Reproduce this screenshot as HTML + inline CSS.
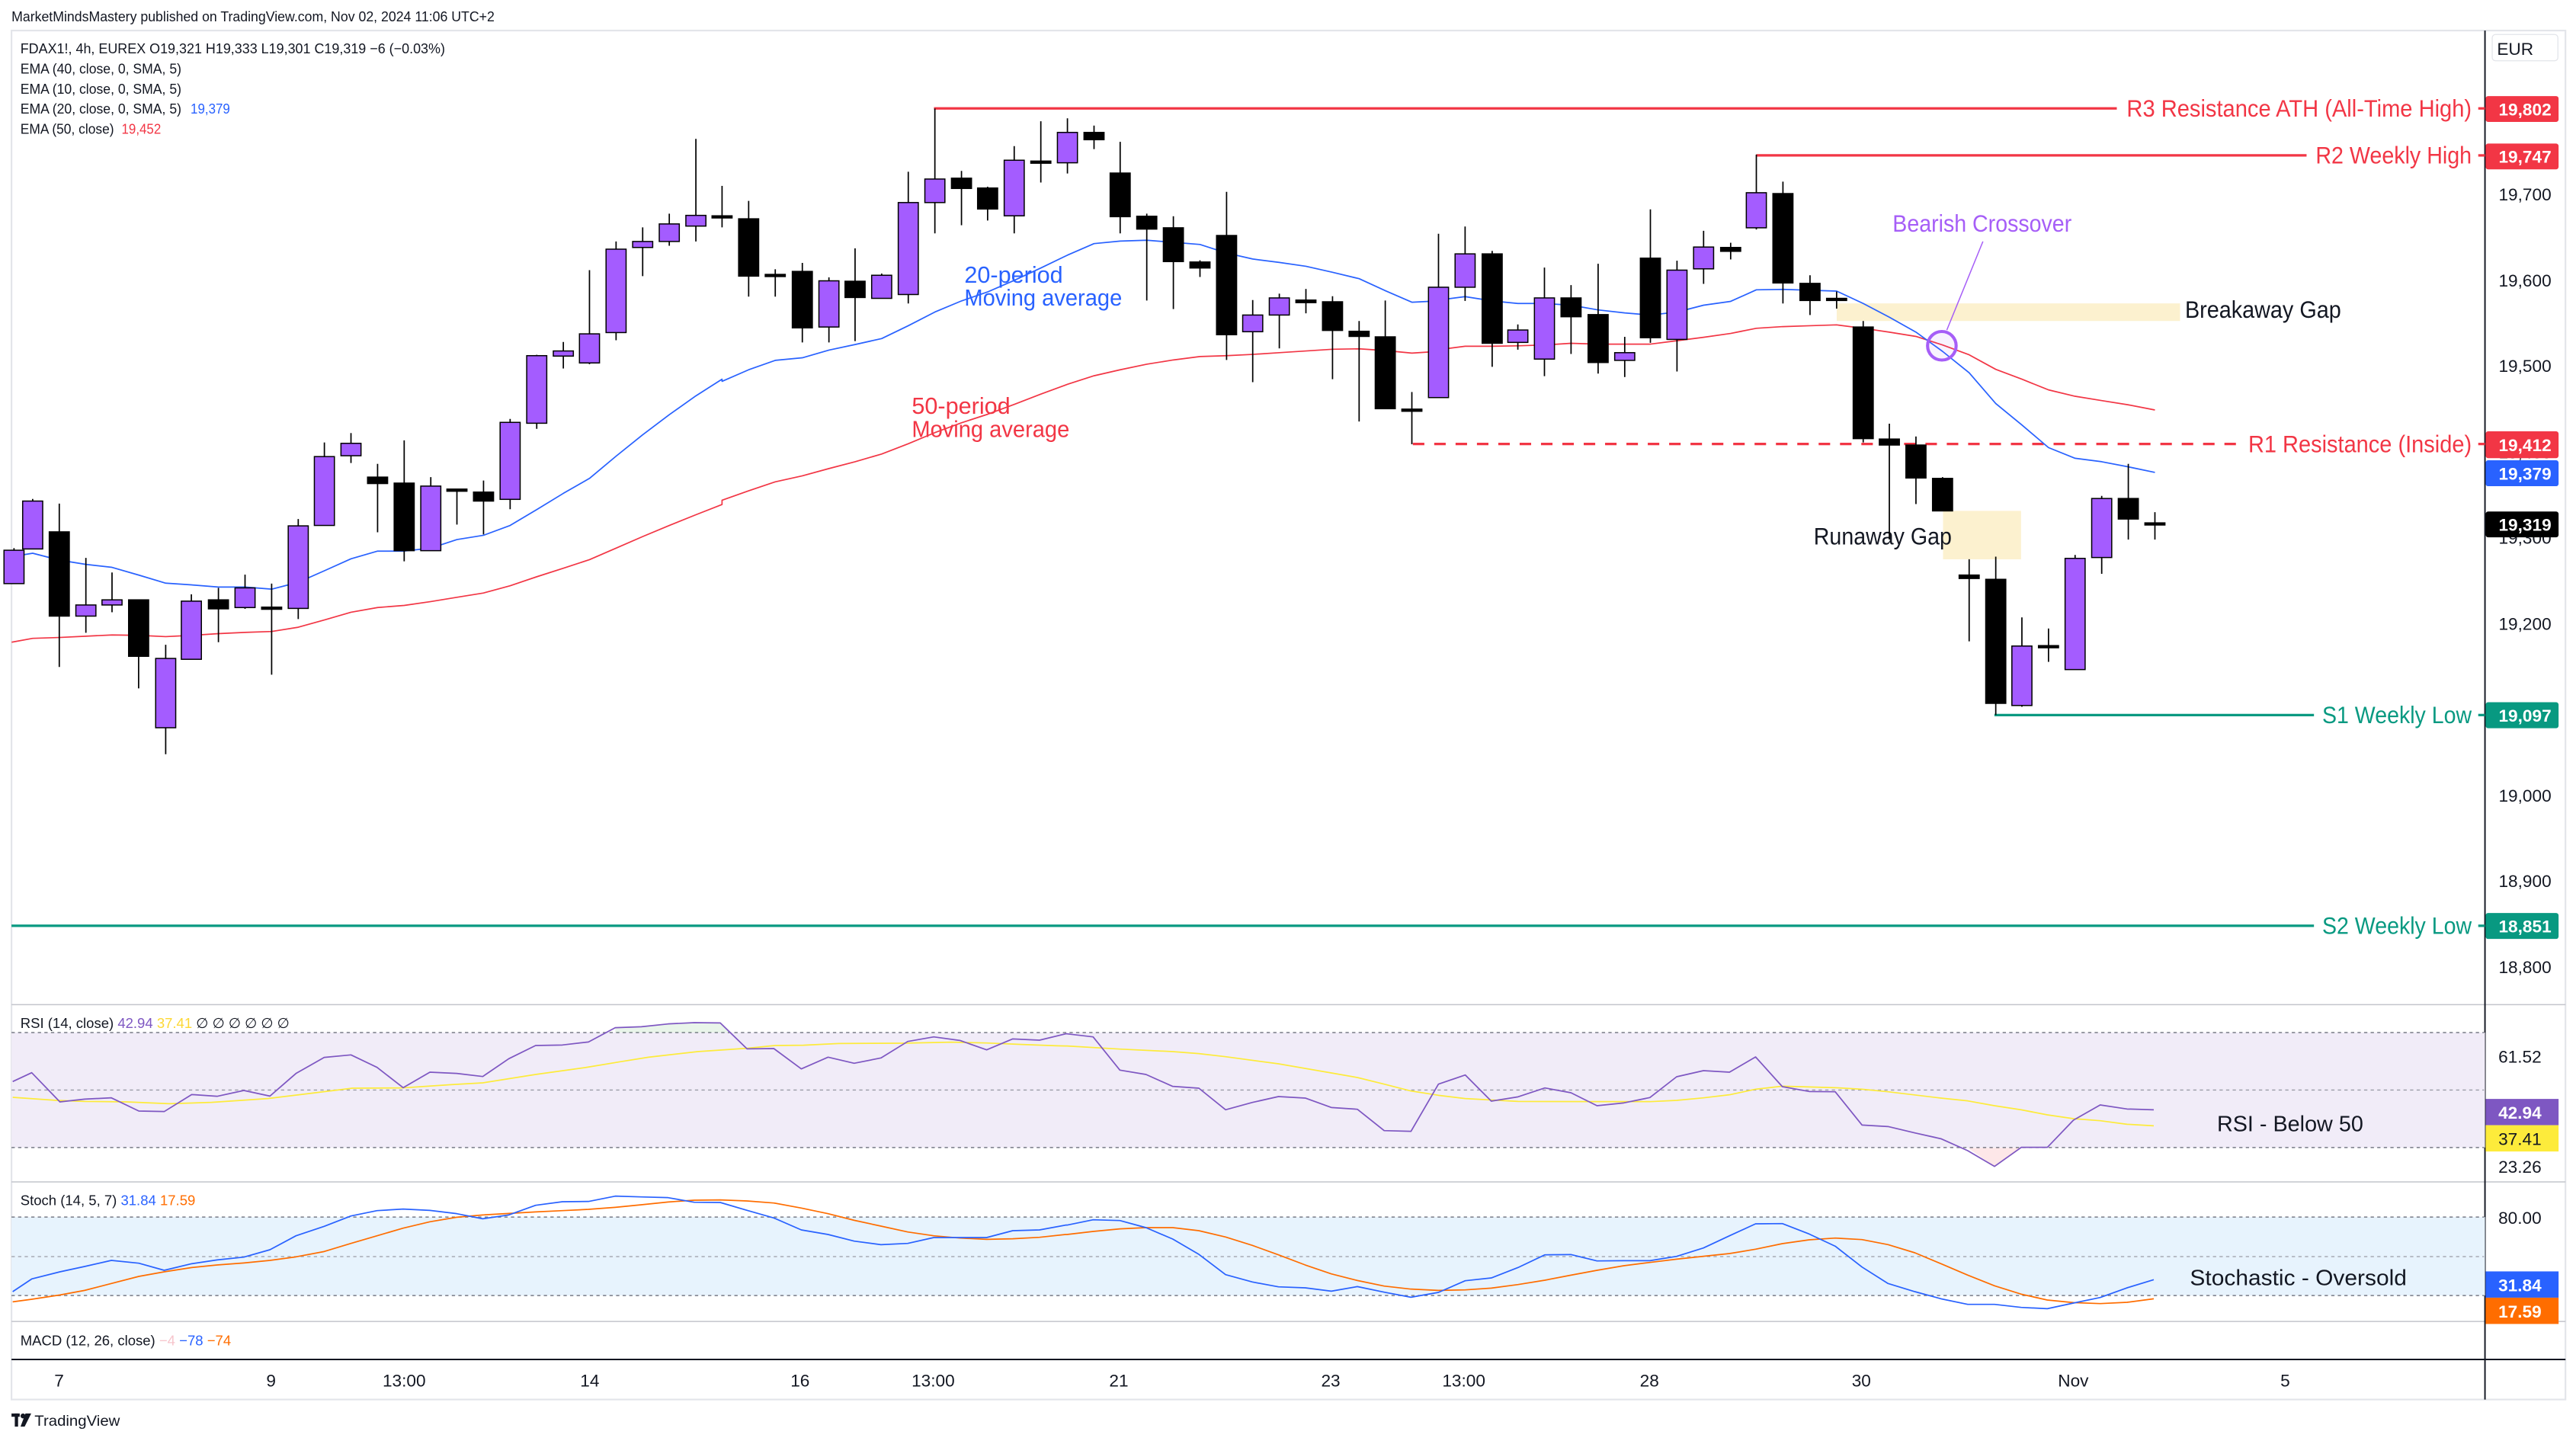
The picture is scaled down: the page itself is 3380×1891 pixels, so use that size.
<!DOCTYPE html>
<html><head><meta charset="utf-8"><style>
html,body{margin:0;padding:0;background:#fff;}
svg{display:block;}
text{font-family:"Liberation Sans","DejaVu Sans",sans-serif;}
</style></head><body>
<svg id="s" xmlns="http://www.w3.org/2000/svg" width="3380" height="1891" viewBox="0 0 1568 877.25">
<rect x="0" y="0" width="1568" height="877.25" fill="#fff"/>
<!-- frame -->
<rect x="7" y="18.6" width="1554.6" height="833.4" fill="none" stroke="#e3e5ea" stroke-width="1"/>
<text x="7" y="13" font-size="8.6" fill="#131722" textLength="294" lengthAdjust="spacingAndGlyphs">MarketMindsMastery published on TradingView.com, Nov 02, 2024 11:06 UTC+2</text>

<!-- pane separators -->
<line x1="7" y1="611.6" x2="1561.6" y2="611.6" stroke="#c3c5cc" stroke-width="0.7"/>
<line x1="7" y1="719.5" x2="1561.6" y2="719.5" stroke="#c3c5cc" stroke-width="0.7"/>
<line x1="7" y1="804.5" x2="1561.6" y2="804.5" stroke="#c3c5cc" stroke-width="0.7"/>
<line x1="7" y1="827.6" x2="1561.6" y2="827.6" stroke="#131722" stroke-width="0.9"/>
<line x1="1512.6" y1="18.6" x2="1512.6" y2="852" stroke="#131722" stroke-width="0.9"/>

<!-- gap boxes -->
<rect x="1118" y="184.7" width="209" height="10.7" fill="#fcf1cf"/>
<rect x="1182.7" y="311" width="47.5" height="29.5" fill="#fcf1cf"/>

<!-- levels -->
<line x1="568.5" y1="66" x2="1288.5" y2="66" stroke="#f23645" stroke-width="1.5"/>
<line x1="1069" y1="94.6" x2="1404" y2="94.6" stroke="#f23645" stroke-width="1.5"/>
<line x1="860" y1="270.3" x2="1365" y2="270.3" stroke="#f23645" stroke-width="1.5" stroke-dasharray="7,6"/>
<line x1="1214" y1="435.3" x2="1408.5" y2="435.3" stroke="#089981" stroke-width="1.5"/>
<line x1="7" y1="563.6" x2="1408.5" y2="563.6" stroke="#089981" stroke-width="1.5"/>
<g stroke-width="1.5">
<line x1="1508.5" y1="66" x2="1512.6" y2="66" stroke="#f23645"/>
<line x1="1508.5" y1="94.6" x2="1512.6" y2="94.6" stroke="#f23645"/>
<line x1="1508.5" y1="270.3" x2="1512.6" y2="270.3" stroke="#f23645"/>
<line x1="1508.5" y1="435.3" x2="1512.6" y2="435.3" stroke="#089981"/>
<line x1="1508.5" y1="563.6" x2="1512.6" y2="563.6" stroke="#089981"/>
</g>
<g font-size="14.5" text-anchor="end">
<text x="1504.5" y="71" fill="#f23645" textLength="210" lengthAdjust="spacingAndGlyphs">R3 Resistance ATH (All-Time High)</text>
<text x="1504.5" y="99.6" fill="#f23645" textLength="95" lengthAdjust="spacingAndGlyphs">R2 Weekly High</text>
<text x="1504.5" y="275.3" fill="#f23645" textLength="136" lengthAdjust="spacingAndGlyphs">R1 Resistance (Inside)</text>
<text x="1504.5" y="440.3" fill="#089981" textLength="91" lengthAdjust="spacingAndGlyphs">S1 Weekly Low</text>
<text x="1504.5" y="568.6" fill="#089981" textLength="91" lengthAdjust="spacingAndGlyphs">S2 Weekly Low</text>
</g>
<text x="1330" y="193.5" font-size="14.5" fill="#131722" textLength="95" lengthAdjust="spacingAndGlyphs">Breakaway Gap</text>
<text x="1104" y="331.5" font-size="14.5" fill="#131722" textLength="84" lengthAdjust="spacingAndGlyphs">Runaway Gap</text>
<text x="1152" y="141" font-size="14.5" fill="#a65ef7" textLength="109" lengthAdjust="spacingAndGlyphs">Bearish Crossover</text>
<line x1="1207" y1="147" x2="1185" y2="201" stroke="#a65ef7" stroke-width="0.7"/>
<text x="587" y="172" font-size="14" fill="#2962ff" textLength="60" lengthAdjust="spacingAndGlyphs">20-period</text>
<text x="587" y="186" font-size="14" fill="#2962ff" textLength="96" lengthAdjust="spacingAndGlyphs">Moving average</text>
<text x="555" y="252" font-size="14" fill="#f23645" textLength="60" lengthAdjust="spacingAndGlyphs">50-period</text>
<text x="555" y="266" font-size="14" fill="#f23645" textLength="96" lengthAdjust="spacingAndGlyphs">Moving average</text>

<g id="main"></g>
<circle cx="1182" cy="210.5" r="8.7" fill="rgba(166,94,247,0.08)" stroke="#a65ef7" stroke-width="1.9"/>

<!-- legends -->
<g font-size="8.6" fill="#131722">
<text x="12.4" y="32.5" textLength="258.5" lengthAdjust="spacingAndGlyphs">FDAX1!, 4h, EUREX  O19,321  H19,333  L19,301  C19,319  −6 (−0.03%)</text>
<text x="12.4" y="44.8" textLength="98" lengthAdjust="spacingAndGlyphs">EMA (40, close, 0, SMA, 5)</text>
<text x="12.4" y="57" textLength="98" lengthAdjust="spacingAndGlyphs">EMA (10, close, 0, SMA, 5)</text>
<text x="12.4" y="69.2" textLength="98" lengthAdjust="spacingAndGlyphs">EMA (20, close, 0, SMA, 5)</text>
<text x="116" y="69.2" fill="#2962ff" textLength="24" lengthAdjust="spacingAndGlyphs">19,379</text>
<text x="12.4" y="81.4" textLength="57" lengthAdjust="spacingAndGlyphs">EMA (50, close)</text>
<text x="74" y="81.4" fill="#f23645" textLength="24" lengthAdjust="spacingAndGlyphs">19,452</text>
<text x="12.4" y="625.7">RSI (14, close) <tspan fill="#7e57c2">42.94</tspan> <tspan fill="#fdd835">37.41</tspan>  ∅ ∅ ∅ ∅ ∅ ∅</text>
<text x="12.4" y="733.7">Stoch (14, 5, 7) <tspan fill="#2962ff">31.84</tspan> <tspan fill="#ff6d00">17.59</tspan></text>
<text x="12.4" y="819">MACD (12, 26, close) <tspan fill="#f7c5cc">−4</tspan> <tspan fill="#2962ff">−78</tspan> <tspan fill="#ff6d00">−74</tspan></text>
</g>

<!-- RSI pane bg -->
<rect x="7" y="628.6" width="1505.6" height="70" fill="#f1ecf8"/>
<line x1="7" y1="628.6" x2="1512" y2="628.6" stroke="#787b86" stroke-width="0.7" stroke-dasharray="2,2"/>
<line x1="7" y1="663.6" x2="1512" y2="663.6" stroke="#9a9ca5" stroke-width="0.6" stroke-dasharray="2,2"/>
<line x1="7" y1="698.6" x2="1512" y2="698.6" stroke="#787b86" stroke-width="0.7" stroke-dasharray="2,2"/>
<!-- Stoch bg -->
<rect x="7" y="740.9" width="1505.6" height="47.8" fill="#e7f3fd"/>
<line x1="7" y1="740.9" x2="1512" y2="740.9" stroke="#787b86" stroke-width="0.7" stroke-dasharray="2,2"/>
<line x1="7" y1="765" x2="1512" y2="765" stroke="#9a9ca5" stroke-width="0.6" stroke-dasharray="2,2"/>
<line x1="7" y1="788.7" x2="1512" y2="788.7" stroke="#787b86" stroke-width="0.7" stroke-dasharray="2,2"/>
<g id="ind"></g>
<text x="1349.5" y="688.7" font-size="13.5" fill="#131722" textLength="89" lengthAdjust="spacingAndGlyphs">RSI - Below 50</text>
<text x="1333" y="782.3" font-size="13.5" fill="#131722" textLength="132" lengthAdjust="spacingAndGlyphs">Stochastic - Oversold</text>

<!-- price axis -->
<rect x="1517" y="21" width="40" height="16" rx="2" fill="#fff" stroke="#e3e5ea" stroke-width="0.6"/>
<text x="1531" y="33.5" font-size="10.5" fill="#131722" text-anchor="middle">EUR</text>
<g font-size="10.5" fill="#131722" text-anchor="end">
<text x="1553" y="122">19,700</text>
<text x="1553" y="174.5">19,600</text>
<text x="1553" y="226.5">19,500</text>
<text x="1553" y="279">19,400</text>
<text x="1553" y="331">19,300</text>
<text x="1553" y="383.5">19,200</text>
<text x="1553" y="488">19,000</text>
<text x="1553" y="540">18,900</text>
<text x="1553" y="592.5">18,800</text>
<text x="1547" y="647">61.52</text>
<text x="1547" y="714">23.26</text>
<text x="1547" y="745">80.00</text>
</g>
<g font-size="10.5" fill="#fff" text-anchor="end" font-weight="bold">
<rect x="1513" y="58.5" width="44.4" height="15.7" rx="1.5" fill="#f23645"/><text x="1553" y="70.2">19,802</text>
<rect x="1513" y="87.4" width="44.4" height="15.7" rx="1.5" fill="#f23645"/><text x="1553" y="99.1">19,747</text>
<rect x="1513" y="262.6" width="44.4" height="16.3" rx="1.5" fill="#f23645"/><text x="1553" y="274.6">19,412</text>
<rect x="1513" y="280.2" width="44.4" height="15.8" rx="1.5" fill="#2962ff"/><text x="1553" y="292">19,379</text>
<rect x="1513" y="311.4" width="44.4" height="15.7" rx="1.5" fill="#000"/><text x="1553" y="323.2">19,319</text>
<rect x="1513" y="427.5" width="44.4" height="15.8" rx="1.5" fill="#089981"/><text x="1553" y="439.3">19,097</text>
<rect x="1513" y="555.8" width="44.4" height="15.8" rx="1.5" fill="#089981"/><text x="1553" y="567.6">18,851</text>
<rect x="1513" y="669" width="44.4" height="16" fill="#7e57c2"/><text x="1547" y="681">42.94</text>
<rect x="1513" y="685" width="44.4" height="16" fill="#fdeb3b"/><text x="1547" y="697" fill="#131722" font-weight="normal">37.41</text>
<rect x="1513" y="774" width="44.4" height="16" fill="#2962ff"/><text x="1547" y="786">31.84</text>
<rect x="1513" y="790" width="44.4" height="16" fill="#ff6d00"/><text x="1547" y="802">17.59</text>
</g>

<!-- time axis -->
<g font-size="10.5" fill="#131722" text-anchor="middle">
<text x="36" y="844">7</text><text x="165" y="844">9</text><text x="246" y="844">13:00</text>
<text x="359" y="844">14</text><text x="487" y="844">16</text><text x="568" y="844">13:00</text>
<text x="681" y="844">21</text><text x="810" y="844">23</text><text x="891" y="844">13:00</text>
<text x="1004" y="844">28</text><text x="1133" y="844">30</text><text x="1262" y="844">Nov</text>
<text x="1391" y="844">5</text>
</g>
<rect x="7" y="860.5" width="5" height="2" fill="#131722"/><rect x="9" y="860.5" width="2" height="8" fill="#131722"/>
<circle cx="14" cy="862" r="1.5" fill="#131722"/><path d="M15.5 860.5 L19 860.5 L15 868.5 L12.5 868.5 Z" fill="#131722"/>
<text x="21" y="868" font-size="9" fill="#131722" textLength="52" lengthAdjust="spacingAndGlyphs">TradingView</text>
</svg>
<script>
var NS="http://www.w3.org/2000/svg";
function el(p,t,a){var e=document.createElementNS(NS,t);for(var k in a)e.setAttribute(k,a[k]);p.appendChild(e);return e;}
var main=document.getElementById('main');
var P="#a45cff";
// [zx, bodyTop, bodyBot, wickTop, wickBot, purple?]
var Z=[
 [0,[[30,1055,1133,1050,1133,1],[70,940,1052,935,1052,1],[127,1012,1209,946,1328,0],[184,1183,1209,1073,1248,1],[240,1171,1183,1107,1200,1],[297,1171,1303,1171,1378,0],[355,1308,1470,1276,1532,1],[410,1174,1310,1158,1310,1],[468,1171,1192,1143,1270,0],[525,1143,1189,1112,1192,1],[582,1188,1191,1133,1346,0],[639,998,1191,982,1216,1],[695,836,997,803,997,1],[752,805,834,781,851,1],[809,884,899,853,1013,0],[866,898,1056,798,1081,0],[923,905,1056,884,1056,1],[979,912,917,912,995,0],[1036,919,940,892,1018,0],[1093,756,936,748,959,1],[1150,600,758,598,771,1],[1207,589,601,568,630,1],[1263,549,617,400,620,1],[1320,351,546,333,564,1],[1377,333,347,300,414,1],[1434,292,333,268,343,1],[1491,272,297,93,333,1]],
 [0,1,0]],
 [436.1,[[12,273,275,203,300,0],[69,280,414,238,462,0],[126,410,412,398,462,0],[184,403,535,383,569,0],[241,425,533,417,569,1],[297,426,464,349,566,0],[354,412,466,408,466,1],[411,242,457,170,478,1],[468,187,242,22,314,1],[525,185,209,168,295,0],[581,208,257,205,284,0],[638,143,273,110,314,1],[695,145,150,52,195,0],[752,78,149,45,174,1],[809,78,95,62,117,0],[865,173,275,100,314,0],[922,274,304,268,471,0],[979,301,380,274,491,0],[1036,381,395,377,416,0],[1093,319,551,217,610,0],[1149,505,544,470,662,1],[1206,465,505,455,583,1],[1263,470,476,444,501,0],[1320,474,541,461,655,0],[1377,543,555,519,754,0],[1433,556,724,471,724,0],[1490,725,730,685,807,0]]],
 [872.2,[[12,440,698,315,698,1],[69,362,440,298,472,1],[127,362,571,355,626,0],[182,540,569,527,586,1],[239,465,608,394,648,1],[296,465,509,435,596,0],[354,504,616,385,642,0],[411,593,611,556,650,1],[466,372,558,258,570,0],[523,400,562,378,637,1],[580,346,397,308,432,1],[638,347,356,336,375,0],[693,219,301,130,305,1],[750,221,430,193,478,0],[808,431,471,412,505,0],[865,466,470,450,490,0],[922,533,794,519,803,0],[978,795,809,759,1030,0],[1035,809,886,789,947,0],[1092,887,963,884,963,0],[1149,1113,1121,1076,1268,0],[1206,1123,1413,1070,1440,0],[1262,1279,1418,1212,1421,1],[1319,1278,1280,1238,1316,0],[1376,1074,1334,1066,1334,1],[1433,934,1072,928,1110,1],[1490,934,982,853,1030,0],[1547,991,995,966,1030,0]]]
];
var blue=[[0,[[25,1070],[70,1062],[127,1078],[184,1088],[240,1095],[297,1113],[355,1132],[410,1136],[468,1141],[525,1141],[582,1146],[639,1130],[695,1103],[752,1075],[809,1057],[866,1057],[923,1050],[979,1030],[1036,1020],[1093,997],[1150,960],[1207,922],[1263,887],[1320,835],[1377,785],[1434,738],[1491,694],[1547,655]]],
[436.1,[[12,660],[69,633],[126,611],[184,605],[241,587],[297,574],[354,560],[411,530],[468,498],[525,472],[581,451],[638,424],[695,395],[752,365],[809,338],[865,332],[922,330],[979,335],[1036,340],[1093,360],[1149,374],[1206,382],[1263,391],[1320,405],[1377,420],[1433,448],[1490,475],[1547,472]]],
[872.2,[[12,470],[69,462],[127,472],[182,478],[239,478],[296,482],[354,493],[411,500],[466,505],[523,498],[580,482],[638,473],[693,446],[750,445],[808,447],[865,449],[922,478],[978,510],[1035,545],[1092,590],[1149,640],[1206,712],[1262,762],[1319,815],[1376,840],[1433,848],[1490,860],[1547,873]]]];
var red=[[0,[[25,1270],[70,1261],[127,1259],[184,1256],[240,1253],[297,1254],[355,1257],[410,1254],[468,1250],[525,1247],[582,1245],[639,1235],[695,1218],[752,1200],[809,1189],[866,1184],[923,1175],[979,1165],[1036,1155],[1093,1138],[1150,1117],[1207,1097],[1263,1077],[1320,1050],[1377,1023],[1434,997],[1491,972],[1547,948]]],
[436.1,[[12,938],[69,916],[126,895],[184,881],[241,864],[297,848],[354,830],[411,806],[468,780],[525,757],[581,737],[638,714],[695,690],[752,667],[809,647],[865,633],[922,620],[979,610],[1036,602],[1093,600],[1149,597],[1206,593],[1263,589],[1320,585],[1377,584],[1433,588],[1490,594],[1547,590]]],
[872.2,[[12,586],[69,578],[127,578],[182,577],[239,575],[296,571],[354,573],[411,573],[466,573],[523,565],[580,557],[638,548],[693,536],[750,532],[808,530],[865,528],[922,536],[978,545],[1035,555],[1092,575],[1149,598],[1206,632],[1262,655],[1319,680],[1376,695],[1433,705],[1490,715],[1547,727]]]];
function mx(x0,zx){return x0+zx/3.52;}
function my(zy){return 60.31+zy/3.841;}
function line(parent,sets,fx,fy,col,w){
 var pts=[];sets.forEach(function(s){s[1].forEach(function(p){pts.push(fx(s[0],p[0]).toFixed(2)+","+fy(p[1]).toFixed(2));});});
 el(parent,'polyline',{points:pts.join(' '),fill:'none',stroke:col,'stroke-width':w,'stroke-linejoin':'round'});
}
line(main,red,mx,my,'#f23645',0.8);
line(main,blue,mx,my,'#2962ff',0.8);
Z.forEach(function(s){
 if(!s[1].length)return; var x0=s[0];
 s[1].forEach(function(c){
  var x=mx(x0,c[0]), t=my(c[1]), b=my(c[2]), wt=my(c[3]), wb=my(c[4]);
  el(main,'line',{x1:x,y1:wt,x2:x,y2:wb,stroke:'#000','stroke-width':0.8});
  var h=Math.max(b-t,1.3);
  el(main,'rect',{x:x-6.1,y:t,width:12.2,height:h,fill:c[5]?P:'#000',stroke:'#000','stroke-width':0.7});
 });
});
// indicators
var ind=document.getElementById('ind');
function ix(x0,zx){return x0+zx*0.42898;}
function iy(zy){return 607.72+zy*0.15464;}
var rsi=[[0,[[18,328],[45,293],[85,408],[120,397],[158,392],[197,444],[233,446],[272,379],[308,386],[346,363],[383,385],[420,296],[460,233],[498,223],[535,272],[572,352],[610,291],[648,296],[685,308],[722,238],[760,186],[798,184],[835,172],[873,116],[910,112],[948,101],[985,96],[1022,97],[1060,199],[1098,198],[1137,278],[1175,232],[1212,256],[1250,235],[1288,170],[1325,152],[1362,166],[1400,203],[1437,160],[1475,165],[1512,140]]],
[649.5,[[0,140],[37,152],[75,283],[112,300],[150,347],[187,354],[225,439],[263,410],[300,387],[338,393],[375,430],[412,437],[450,521],[488,524],[527,338],[565,302],[602,405],[640,388],[678,353],[715,372],[752,423],[790,412],[827,391],[865,309],[903,285],[940,291],[977,231],[1015,348],[1053,367],[1090,368],[1128,499],[1165,505],[1203,530],[1240,553],[1278,600],[1316,662],[1354,587],[1391,587],[1428,480],[1466,420],[1504,436],[1542,439]]]];
var rsiMA=[[0,[[18,390],[80,402],[120,406],[180,408],[240,415],[300,410],[380,395],[430,378],[500,354],[570,353],[640,340],[685,333],[760,300],[830,273],[880,250],[920,232],[990,210],[1060,197],[1100,186],[1140,185],[1190,178],[1280,177],[1350,173],[1400,176],[1450,182],[1500,187]]],
[649.5,[[0,188],[75,200],[150,210],[187,218],[225,230],[300,258],[375,294],[412,312],[450,338],[488,365],[527,382],[565,395],[640,406],[750,407],[827,407],[865,402],[903,392],[940,380],[977,358],[1015,346],[1090,352],[1128,358],[1165,368],[1240,393],[1278,404],[1316,423],[1354,439],[1391,459],[1428,474],[1466,482],[1504,496],[1542,502]]]];
var sk=[[0,[[18,1155],[45,1105],[85,1077],[120,1056],[158,1032],[197,1043],[233,1071],[272,1045],[308,1030],[346,1019],[383,990],[420,935],[460,898],[498,857],[535,836],[572,830],[610,835],[648,848],[685,868],[722,853],[760,815],[798,801],[835,800],[873,779],[910,782],[948,785],[985,803],[1022,804],[1060,835],[1098,865],[1137,912],[1175,930],[1212,956],[1250,970],[1288,965],[1325,942],[1362,942],[1400,942],[1437,915],[1475,912],[1512,893]]],
[649.5,[[0,893],[37,872],[75,875],[112,903],[150,948],[187,1008],[225,1088],[263,1117],[300,1136],[338,1140],[375,1153],[412,1135],[450,1157],[488,1177],[527,1158],[565,1112],[602,1101],[640,1060],[678,1010],[715,1009],[752,1034],[790,1033],[827,1033],[865,1016],[903,983],[940,935],[977,888],[1015,887],[1053,928],[1090,976],[1128,1058],[1165,1123],[1203,1155],[1240,1183],[1278,1205],[1316,1205],[1354,1217],[1391,1222],[1428,1200],[1466,1178],[1504,1140],[1542,1108]]]];
var sd=[[0,[[18,1195],[45,1185],[85,1168],[120,1150],[158,1123],[197,1095],[233,1077],[272,1060],[308,1050],[346,1042],[383,1032],[420,1018],[460,997],[498,965],[535,935],[572,905],[610,880],[648,862],[685,853],[722,847],[760,841],[798,836],[835,831],[873,823],[910,813],[948,802],[985,795],[1022,794],[1060,798],[1098,806],[1137,826],[1175,848],[1212,874],[1250,897],[1288,920],[1325,935],[1362,944],[1400,949],[1437,947],[1475,941],[1512,930]]],
[649.5,[[0,930],[37,918],[75,908],[112,903],[150,903],[187,915],[225,940],[263,973],[300,1010],[338,1050],[375,1085],[412,1111],[450,1133],[488,1145],[527,1150],[565,1148],[602,1141],[640,1127],[678,1110],[715,1090],[752,1071],[790,1053],[827,1040],[865,1027],[903,1016],[940,1005],[977,988],[1015,966],[1053,951],[1090,944],[1128,950],[1165,970],[1203,1002],[1240,1045],[1278,1090],[1316,1132],[1354,1165],[1391,1188],[1428,1198],[1466,1202],[1504,1197],[1542,1183]]]];
// fills
el(ind,'polygon',{points:[[873,135],[873,116],[910,112],[948,101],[985,96],[1022,97],[1035,135]].map(function(p){return ix(0,p[0])+","+iy(p[1]);}).join(' '),fill:'rgba(76,175,80,0.12)'});
el(ind,'polygon',{points:[[1278,589],[1316,662],[1354,589]].map(function(p){return ix(649.5,p[0])+","+iy(p[1]);}).join(' '),fill:'rgba(242,54,69,0.12)'});
line(ind,rsiMA,ix,iy,'#fdeb3b',0.8);
line(ind,rsi,ix,iy,'#7e57c2',0.8);
line(ind,sd,ix,iy,'#ff6d00',0.8);
line(ind,sk,ix,iy,'#2962ff',0.8);
</script>
</body></html>
